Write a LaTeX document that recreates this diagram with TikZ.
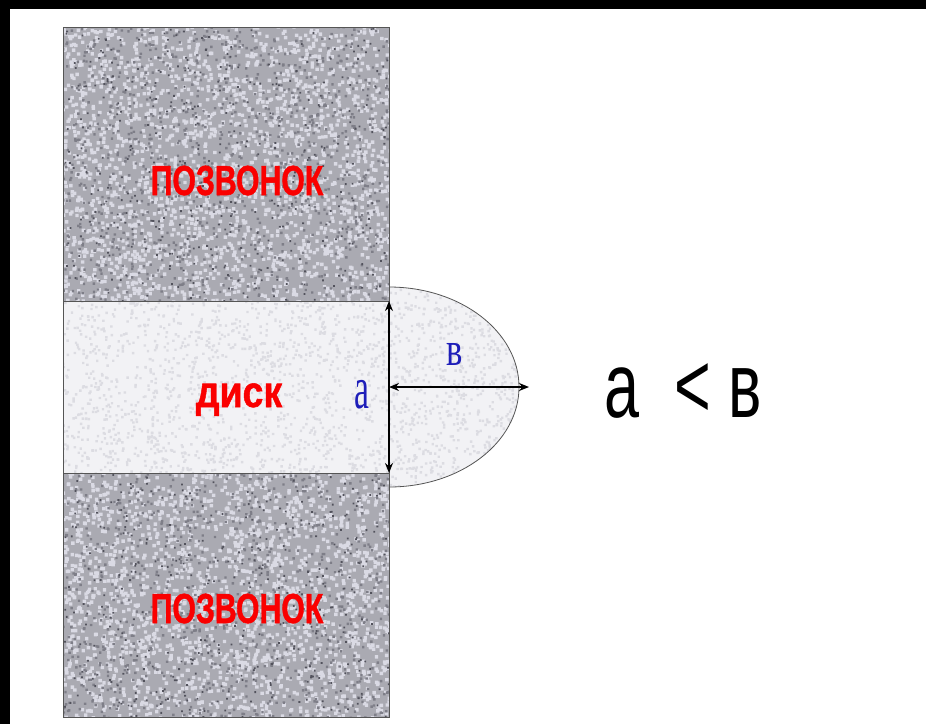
\documentclass[tikz,border=0pt]{standalone}
\usepackage{fontspec}
\setmainfont{Liberation Serif}
\newfontfamily\sansf{Liberation Sans}
\newfontfamily\heavysans[UprightFont={* Bold}, FakeBold=1.2]{Liberation Sans}
\usetikzlibrary{arrows.meta}

\definecolor{bonebase}{RGB}{170,170,178}
\definecolor{bonelight}{RGB}{218,218,228}
\definecolor{bonemid}{RGB}{126,126,136}
\definecolor{bonedark}{RGB}{82,82,92}
\definecolor{discbase}{RGB}{242,242,245}
\definecolor{discspeck}{RGB}{220,220,226}
\definecolor{edgegray}{RGB}{85,85,85}
\definecolor{labelred}{RGB}{250,0,0}
\definecolor{labelblue}{RGB}{30,30,185}

\tikzset{
  outline/.style={draw=edgegray, line width=0.8pt},
  redlabel/.style={text=labelred, inner sep=0pt, anchor=base, font=\heavysans},
  bluelabel/.style={text=labelblue, inner sep=0pt, anchor=base},
  dimarrow/.style={line width=2.2pt,
    {Stealth[length=10pt,width=8pt]}-{Stealth[length=10pt,width=8pt]}},
}

% speckle fill: colour, batches of 200 grains, x0, width, y0, height, grain size
\newcommand{\speckle}[7]{%
  \foreach \j in {1,...,#2} {%
    \fill[#1] \foreach \i in {1,...,200} {(#3+#4*rnd,#5+#6*rnd) rectangle +(#7,#7)};
  }%
}

\begin{document}
\begin{tikzpicture}[x=1pt,y=-1pt]
  \pgfmathsetseed{1234}
  % page and black frame strips
  \fill[white] (0,0) rectangle (926,724);
  \useasboundingbox (0,0) rectangle (926,724);
  \fill[black] (0,0) rectangle (926,9);
  \fill[black] (0,0) rectangle (10,724);

  % bulging part of the disc (half ellipse)
  \begin{scope}
    \clip (389,287) arc[start angle=-90, end angle=90, x radius=130, y radius=100] -- cycle;
    \fill[discbase] (389,280) rectangle (525,495);
    \speckle{discspeck}{4}{387}{138}{285}{202}{2.4}
  \end{scope}
  \draw[outline] (389,287) arc[start angle=-90, end angle=90, x radius=130, y radius=100];

  % upper vertebra
  \begin{scope}
    \clip (63,27) rectangle (389,301);
    \fill[bonebase] (63,27) rectangle (389,301);
    \speckle{bonelight}{12}{61}{328}{25}{276}{3.4}
    \speckle{bonemid}{5}{61}{328}{25}{276}{2.4}
    \speckle{bonedark}{2}{61}{328}{25}{276}{1.8}
  \end{scope}

  % disc
  \begin{scope}
    \clip (63,301) rectangle (389,473);
    \fill[discbase] (63,301) rectangle (389,473);
    \speckle{discspeck}{7}{61}{328}{299}{174}{2.4}
  \end{scope}

  % lower vertebra
  \begin{scope}
    \clip (63,473) rectangle (389,717);
    \fill[bonebase] (63,473) rectangle (389,717);
    \speckle{bonelight}{11}{61}{328}{471}{246}{3.4}
    \speckle{bonemid}{4}{61}{328}{471}{246}{2.4}
    \speckle{bonedark}{2}{61}{328}{471}{246}{1.8}
  \end{scope}

  \draw[outline] (63,27) rectangle (389,717);
  \draw[outline] (63,301) -- (389,301);
  \draw[outline] (63,473) -- (389,473);

  % labels of the parts
  \node[redlabel] (vtop) at (237,195) {\scalebox{0.72}[1]{\fontsize{42}{42}\selectfont ПОЗВОНОК}};
  \node[redlabel] (disc) at (239,407) {\scalebox{0.85}[1]{\fontsize{44}{44}\selectfont диск}};
  \node[redlabel] (vbot) at (237,623) {\scalebox{0.72}[1]{\fontsize{42}{42}\selectfont ПОЗВОНОК}};

  % dimension arrows
  \coordinate (atop) at (389,301);
  \coordinate (abot) at (389,473);
  \coordinate (bleft) at (389,387);
  \coordinate (bright) at (529,387);
  \draw[dimarrow] (atop) -- (abot);
  \draw[dimarrow] (bleft) -- (bright);

  \node[bluelabel] (alabel) at (362,408) {\scalebox{0.56}[1]{\fontsize{60}{60}\selectfont a}};
  \node[bluelabel] (blabel) at (455,365) {\scalebox{0.72}[1]{\fontsize{48}{48}\selectfont в}};

  % relation
  \node[inner sep=0pt, anchor=base west] (relation) at (604,417)
    {\scalebox{0.68}[1]{\sansf\fontsize{92.5}{92.5}\selectfont a\ \ < в}};
\end{tikzpicture}
\end{document}
